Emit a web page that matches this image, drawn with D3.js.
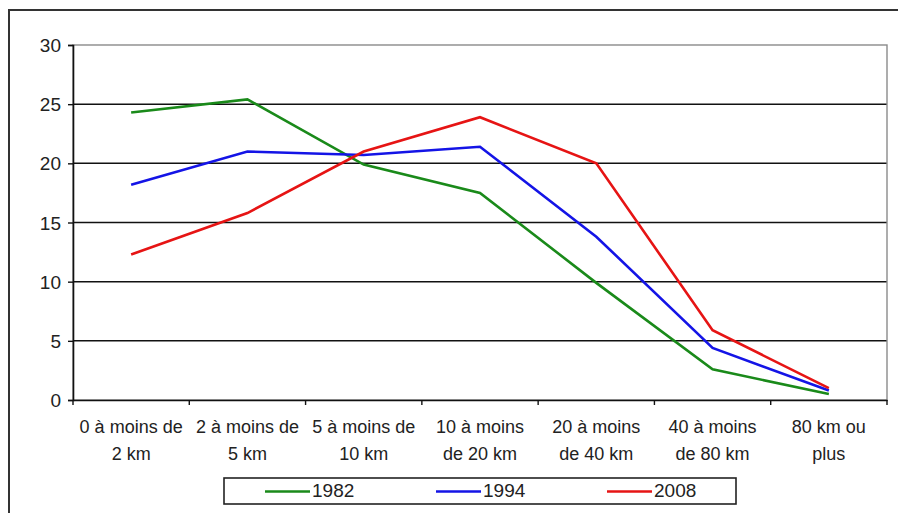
<!DOCTYPE html>
<html><head><meta charset="utf-8">
<script src="https://cdn.jsdelivr.net/npm/d3@7/dist/d3.min.js"></script>
<style>body{margin:0;background:#fff}svg{display:block}</style>
</head><body>
<script>
const categories = [["0 à moins de","2 km"],["2 à moins de","5 km"],["5 à moins de","10 km"],["10 à moins","de 20 km"],["20 à moins","de 40 km"],["40 à moins","de 80 km"],["80 km ou","plus"]];
const seriesNames = ["1982","1994","2008"];
const values1982 = [24.3, 25.4, 19.9, 17.5, 9.9, 2.6, 0.5];
const values1994 = [18.2, 21.0, 20.7, 21.4, 13.8, 4.4, 0.8];
const values2008 = [12.3, 15.8, 21.0, 23.9, 20.0, 5.9, 1.0];
const yTicks = [0,5,10,15,20,25,30];
const colors = ["#1a8a1a","#1414e6","#e61414"];
const seriesValues = [values1982, values1994, values2008];

const W=898,H=513;
const svg=d3.select("body").append("svg").attr("width",W).attr("height",H);
const font="Liberation Sans, Arial, sans-serif";
// outer frame
svg.append("rect").attr("x",9).attr("y",10).attr("width",W).attr("height",H).attr("fill","none").attr("stroke","#333").attr("stroke-width",2);

const L=73,R=887,T=45,B=400;
const x=d3.scaleBand().domain(d3.range(categories.length)).range([L,R]).padding(0);
const y=d3.scaleLinear().domain([0,30]).range([B,T]);

// gridlines
svg.append("g").selectAll("line").data(yTicks.filter(d=>d>0&&d<30)).join("line")
  .attr("x1",L).attr("x2",R).attr("y1",d=>y(d)).attr("y2",d=>y(d)).attr("stroke","#111").attr("stroke-width",1.5);
// plot border (gray)
svg.append("rect").attr("x",L).attr("y",T).attr("width",R-L).attr("height",B-T).attr("fill","none").attr("stroke","#8a8a8a").attr("stroke-width",1.4);

// y axis
const yAxis=svg.append("g").attr("transform",`translate(${L},0)`).call(d3.axisLeft(y).tickValues(yTicks).tickSize(5).tickPadding(7));
yAxis.select(".domain").attr("stroke","#111").attr("stroke-width",1.6);
yAxis.selectAll(".tick line").attr("stroke","#111").attr("stroke-width",1.4);
yAxis.selectAll("text").attr("font-family",font).attr("font-size",19).attr("fill","#222").attr("dy","0.35em");

// x axis
const xAxis=svg.append("g").attr("transform",`translate(0,${B})`).call(d3.axisBottom(x).tickSize(0).tickFormat(""));
xAxis.select(".domain").attr("stroke","#111").attr("stroke-width",1.6);
svg.append("g").selectAll("line").data(d3.range(categories.length+1)).join("line")
  .attr("x1",i=>L+i*x.step()).attr("x2",i=>L+i*x.step()).attr("y1",B).attr("y2",B+5).attr("stroke","#111").attr("stroke-width",1.4);
const xl=svg.append("g").selectAll("text").data(categories).join("text")
  .attr("x",(d,i)=>x(i)+x.bandwidth()/2).attr("y",433)
  .attr("text-anchor","middle").attr("font-family",font).attr("font-size",18).attr("fill","#222");
xl.each(function(d){
  const t=d3.select(this);
  t.append("tspan").attr("x",t.attr("x")).attr("y",433).text(d[0]);
  t.append("tspan").attr("x",t.attr("x")).attr("y",460).text(d[1]);
});

// lines
const line=d3.line().x((d,i)=>x(i)+x.bandwidth()/2).y(d=>y(d));
svg.append("g").selectAll("path").data(seriesValues).join("path")
  .attr("d",line).attr("fill","none").attr("stroke",(d,i)=>colors[i]).attr("stroke-width",2.6).attr("stroke-linejoin","miter");

// legend
svg.append("rect").attr("x",224).attr("y",478).attr("width",512).attr("height",26).attr("fill","#fff").attr("stroke","#222").attr("stroke-width",1.6);
const lg=svg.append("g").selectAll("g").data(seriesNames).join("g").attr("transform",(d,i)=>`translate(${265+i*171},0)`);
lg.append("line").attr("x1",0).attr("x2",45).attr("y1",491.5).attr("y2",491.5).attr("stroke",(d,i)=>colors[i]).attr("stroke-width",2.6);
lg.append("text").attr("x",47).attr("y",497).attr("font-family",font).attr("font-size",19).attr("fill","#222").text(d=>d);
</script>
</body></html>
